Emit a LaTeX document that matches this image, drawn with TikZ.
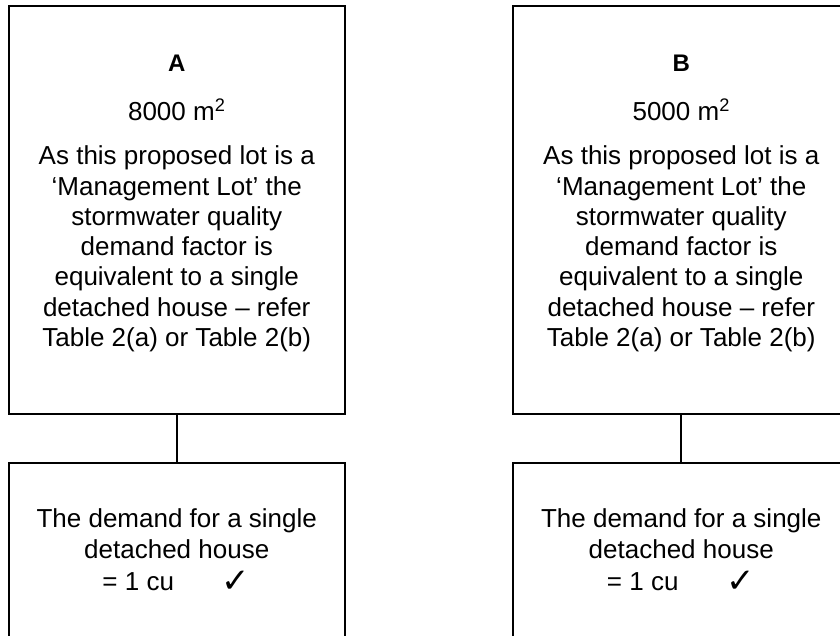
\documentclass[tikz,border=0pt]{standalone}
\usepackage{fontspec}
\setmainfont{Liberation Sans}
\newfontfamily\symfont{DejaVu Sans}
\tikzset{
  box/.style={draw=black, line width=2pt, inner sep=0pt, anchor=north west},
  conn/.style={draw=black, line width=1.8pt},
  txt/.style={anchor=base, inner sep=0pt, font=\fontsize{26}{30}\selectfont},
  ttl/.style={anchor=base, inner sep=0pt, font=\fontsize{24}{27}\selectfont\bfseries},
  chk/.style={anchor=base, inner sep=0pt, font=\fontsize{34}{38}\symfont\bfseries}
}
\newcommand\drawcol[4]{%
  % #1 prefix, #2 left x, #3 title, #4 area
  \node[box, minimum width=336.5pt, minimum height=407pt] (#1top) at (#2,5.5) {};
  \node[box, minimum width=336.5pt, minimum height=190pt] (#1bot) at (#2,462) {};
  \draw[conn] (#1top.south) -- (#1bot.north);
  \node[ttl] (#1t0) at ([yshift=-66.5pt]#1top.north) {#3};
  \node[txt] (#1t1) at ([yshift=-115.5pt]#1top.north) {#4 m\textsuperscript{2}};
  \node[txt] (#1t2) at ([yshift=-159.5pt]#1top.north) {As this proposed lot is a};
  \node[txt] (#1t3) at ([yshift=-190pt]#1top.north) {‘Management Lot’ the};
  \node[txt] (#1t4) at ([yshift=-220pt]#1top.north) {stormwater quality};
  \node[txt] (#1t5) at ([yshift=-250.2pt]#1top.north) {demand factor is};
  \node[txt] (#1t6) at ([yshift=-280.4pt]#1top.north) {equivalent to a single};
  \node[txt] (#1t7) at ([yshift=-310.6pt]#1top.north) {detached house – refer};
  \node[txt] (#1t8) at ([yshift=-340.8pt]#1top.north) {Table 2(a) or Table 2(b)};
  \node[txt] (#1b1) at ([yshift=-65.5pt]#1bot.north) {The demand for a single};
  \node[txt] (#1b2) at ([yshift=-96.5pt]#1bot.north) {detached house};
  \node[txt] (#1b3) at ([xshift=-38.5pt,yshift=-128.5pt]#1bot.north) {= 1 cu};
  \node[chk] (#1b4) at ([xshift=59pt,yshift=-130pt]#1bot.north) {✓};
}
\begin{document}
\begin{tikzpicture}[x=1pt,y=-1pt]
\useasboundingbox (0,0) rectangle (840,636);
\clip (0,0) rectangle (840,636);
\fill[white] (0,0) rectangle (840,636);
\drawcol{A}{7.5}{A}{8000}
\drawcol{B}{512}{B}{5000}
\end{tikzpicture}
\end{document}
